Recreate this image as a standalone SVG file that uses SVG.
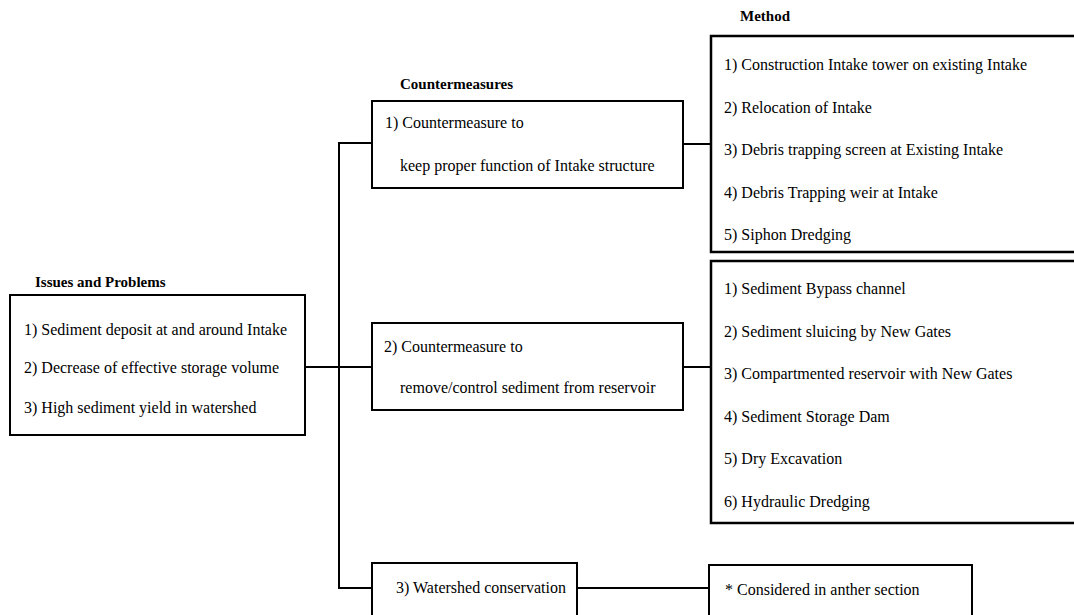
<svg xmlns="http://www.w3.org/2000/svg" width="1074" height="615" viewBox="0 0 1074 615">
<style>
.t{font-family:"Liberation Serif","Times New Roman",serif;font-size:16px;fill:#000}
.h{font-family:"Liberation Serif","Times New Roman",serif;font-size:15px;font-weight:bold;fill:#000}
.box{fill:#fff;stroke:#000;stroke-width:2}
.mbox{fill:#fff;stroke:#000;stroke-width:2.5}
.ln{fill:none;stroke:#000;stroke-width:2}
</style>
<rect width="1074" height="615" fill="#fff"/>
<g id="connectors">
<polyline class="ln" points="372,143 339,143 339,588 372,588"/>
<line class="ln" x1="305" y1="367" x2="372" y2="367"/>
<line class="ln" x1="683" y1="144" x2="711" y2="144"/>
<line class="ln" x1="683" y1="367" x2="711" y2="367"/>
<line class="ln" x1="577" y1="588" x2="709" y2="588"/>
</g>
<g id="issues">
<text class="h" x="35" y="287">Issues and Problems</text>
<rect class="box" x="10" y="295" width="295" height="140"/>
<text class="t" x="24" y="335">1) Sediment deposit at and around Intake</text>
<text class="t" x="24" y="373">2) Decrease of effective storage volume</text>
<text class="t" x="24" y="413">3) High sediment yield in watershed</text>
</g>
<g id="countermeasure1">
<text class="h" x="400" y="89">Countermeasures</text>
<rect class="box" x="372" y="101" width="311" height="87"/>
<text class="t" x="385" y="128">1) Countermeasure to</text>
<text class="t" x="400" y="171">keep proper function of Intake structure</text>
</g>
<g id="countermeasure2">
<rect class="box" x="372" y="323" width="311" height="87"/>
<text class="t" x="384" y="352">2) Countermeasure to</text>
<text class="t" x="400" y="393">remove/control sediment from reservoir</text>
</g>
<g id="countermeasure3">
<rect class="box" x="372" y="563" width="205" height="60"/>
<text class="t" x="396" y="593">3) Watershed conservation</text>
</g>
<g id="method1">
<text class="h" x="740" y="21">Method</text>
<rect class="mbox" x="711" y="36" width="370" height="216"/>
<text class="t" x="724" y="70">1) Construction Intake tower on existing Intake</text>
<text class="t" x="724" y="112.5">2) Relocation of Intake</text>
<text class="t" x="724" y="155">3) Debris trapping screen at Existing Intake</text>
<text class="t" x="724" y="197.5">4) Debris Trapping weir at Intake</text>
<text class="t" x="724" y="240">5) Siphon Dredging</text>
</g>
<g id="method2">
<rect class="mbox" x="711" y="261" width="370" height="262"/>
<text class="t" x="724" y="294">1) Sediment Bypass channel</text>
<text class="t" x="724" y="336.6">2) Sediment sluicing by New Gates</text>
<text class="t" x="724" y="379.2">3) Compartmented reservoir with New Gates</text>
<text class="t" x="724" y="421.8">4) Sediment Storage Dam</text>
<text class="t" x="724" y="464.4">5) Dry Excavation</text>
<text class="t" x="724" y="507">6) Hydraulic Dredging</text>
</g>
<g id="method3">
<rect class="box" x="709" y="565" width="263" height="60"/>
<text class="t" x="725" y="595">* Considered in anther section</text>
</g>
</svg>
